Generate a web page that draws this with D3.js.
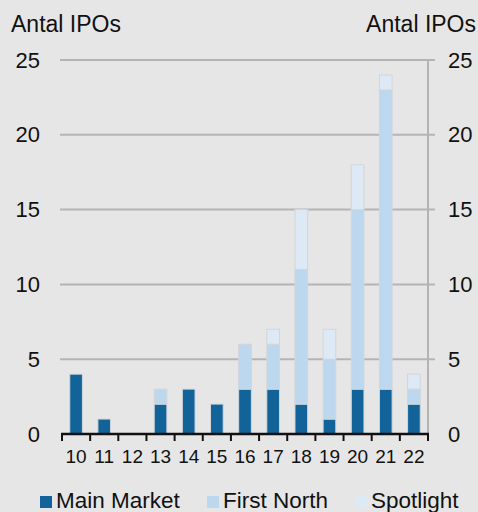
<!DOCTYPE html>
<html>
<head>
<meta charset="utf-8">
<script src="https://cdn.jsdelivr.net/npm/d3@7"></script>
<style>
  body { margin: 0; background: #e6e6e6; }
  svg { display: block; font-family: "Liberation Sans", Arial, sans-serif; }
</style>
</head>
<body>
<svg width="478" height="512"></svg>
<script>
// stacked IPO counts per year

var years = ["10", "11", "12", "13", "14", "15", "16", "17", "18", "19", "20", "21", "22"];
var mainMarket = [4, 1, 0, 2, 3, 2, 3, 3, 2, 1, 3, 3, 2];
var firstNorth = [0, 0, 0, 1, 0, 0, 3, 3, 9, 4, 12, 20, 1];
var spotlight  = [0, 0, 0, 0, 0, 0, 0, 1, 4, 2, 3, 1, 1];
var seriesNames = ["Main Market", "First North", "Spotlight"];
var yTicks = [0, 5, 10, 15, 20, 25];

var colors = ["#11639a", "#bdd7ee", "#dde9f5"];

var svg = d3.select("svg");
var plotLeft = 62, plotRight = 428, plotTop = 60, plotBottom = 434;

// build rows for the stack
var rows = years.map(function(y, i) {
    return { year: y, "Main Market": mainMarket[i], "First North": firstNorth[i], "Spotlight": spotlight[i] };
});
var stacked = d3.stack().keys(seriesNames)(rows);

var xScale = d3.scaleBand().domain(years).range([plotLeft, plotRight]).paddingInner(0.55).paddingOuter(0.275);
var xTickScale = d3.scaleBand().domain(years).range([plotLeft, plotRight]);
var yScale = d3.scaleLinear().domain([0, 25]).range([plotBottom, plotTop]);

// gridlines
svg.append("g").selectAll("line").data(yTicks.filter(function(d) { return d > 0; }))
   .enter().append("line")
   .attr("x1", plotLeft - 2).attr("x2", plotRight + 7)
   .attr("y1", function(d) { return yScale(d); })
   .attr("y2", function(d) { return yScale(d); })
   .attr("stroke", "#b4b4b4").attr("stroke-width", 2);

// right axis line
svg.append("line")
   .attr("x1", plotRight).attr("x2", plotRight)
   .attr("y1", plotTop).attr("y2", plotBottom)
   .attr("stroke", "#b4b4b4").attr("stroke-width", 2);

// bars
svg.append("g").selectAll("g").data(stacked).enter().append("g")
   .attr("fill", function(d, i) { return colors[i]; })
   .selectAll("rect").data(function(d) { return d; })
   .enter().append("rect")
   .filter(function(d) { return d[1] > d[0]; })
   .attr("x", function(d) { return xScale(d.data.year); })
   .attr("width", xScale.bandwidth())
   .attr("y", function(d) { return yScale(d[1]); })
   .attr("height", function(d) { return yScale(d[0]) - yScale(d[1]); })
   .attr("stroke", "#d2d6da").attr("stroke-width", 1);

// bottom axis
var xAxis = d3.axisBottom(xScale).tickSize(0).tickPadding(16);
var xg = svg.append("g").attr("transform", "translate(0," + plotBottom + ")").call(xAxis);
xg.select(".domain").remove();
xg.selectAll("text").attr("font-size", 19).attr("fill", "#111").attr("font-family", "Liberation Sans, Arial, sans-serif");

svg.append("line")
   .attr("x1", plotLeft - 1).attr("x2", plotRight + 1)
   .attr("y1", plotBottom).attr("y2", plotBottom)
   .attr("stroke", "#111").attr("stroke-width", 2.5);
var bounds = years.map(function(y) { return xTickScale(y); }).concat([plotRight]);
svg.append("g").selectAll("line").data(bounds).enter().append("line")
   .attr("x1", function(d) { return d; }).attr("x2", function(d) { return d; })
   .attr("y1", plotBottom).attr("y2", plotBottom + 7)
   .attr("stroke", "#111").attr("stroke-width", 2);

// y labels left and right
var yLeft = d3.axisLeft(yScale).tickValues(yTicks).tickSize(0).tickPadding(22);
var gl = svg.append("g").attr("transform", "translate(" + plotLeft + ",0)").call(yLeft);
gl.select(".domain").remove();
gl.selectAll("text").attr("font-size", 22).attr("fill", "#111").attr("font-family", "Liberation Sans, Arial, sans-serif");

var yRight = d3.axisRight(yScale).tickValues(yTicks).tickSize(0).tickPadding(20);
var gr = svg.append("g").attr("transform", "translate(" + plotRight + ",0)").call(yRight);
gr.select(".domain").remove();
gr.selectAll("text").attr("font-size", 22).attr("fill", "#111").attr("font-family", "Liberation Sans, Arial, sans-serif");

// axis titles
svg.append("text").attr("x", 11).attr("y", 32).attr("font-size", 23).attr("fill", "#111").text("Antal IPOs");
svg.append("text").attr("x", 476).attr("y", 32).attr("text-anchor", "end").attr("font-size", 23).attr("fill", "#111").text("Antal IPOs");

// legend
var legendX = [40, 207, 355];
var legend = svg.append("g").selectAll("g").data(seriesNames).enter().append("g")
   .attr("transform", function(d, i) { return "translate(" + legendX[i] + ",496)"; });
legend.append("rect").attr("width", 12).attr("height", 12)
   .attr("fill", function(d, i) { return colors[i]; });
legend.append("text").attr("x", 16).attr("y", 12).attr("font-size", 22.5).attr("fill", "#111")
   .text(function(d) { return d; });
</script>
</body>
</html>
